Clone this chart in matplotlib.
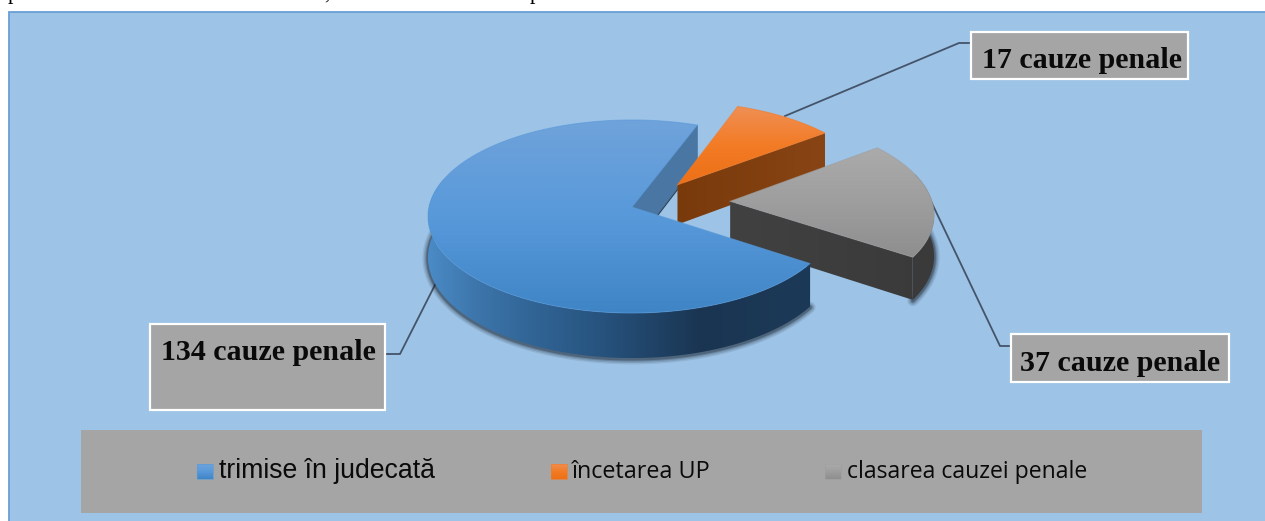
import numpy as np
import matplotlib
matplotlib.use('Agg')
import matplotlib.pyplot as plt
from matplotlib.colors import LinearSegmentedColormap, to_rgb
from matplotlib.patches import Polygon, Rectangle

# --- Datos ---------------------------------------------------------------
CATEGORIAS = ["trimise în judecată", "încetarea UP", "clasarea cauzei penale"]
CAUZE = [134, 17, 37]

# --- Estilo de cada porción ----------------------------------------------
EXPLOSION = [0.0, 0.33, 0.49]
DIR_EXPLOSION = [0, 44, 83]
GRAD_TOP = [["#70a3da", "#5899da", "#3f85c6"],
            ["#ef8f55", "#f37b25", "#ec7016"],
            ["#ababab", "#9e9e9e", "#8e8e8e"]]
GRAD_PARED = [([429, 470, 520, 600, 700, 814],
               ["#4a8ac6", "#3f78ae", "#33689a", "#27537e", "#1a3552", "#1c3a58"]),
              ([678, 825], ["#793a0b", "#884414"]),
              ([732, 934], ["#414141", "#3a3a3a"])]
PARED_INTERIOR = "#4a76a3"

INICIO = 124.0
CX, CY, A, B, K, H = 632, 207, 203, 95.6, 0.0984, 40.6

fig = plt.figure(figsize=(12.65, 5.21), dpi=100, facecolor='white')
ax = fig.add_axes([0, 0, 1, 1])
ax.set_xlim(0, 1265)
ax.set_ylim(521, 0)
ax.axis('off')

FONDO = "#9dc3e6"
GRIS = "#a5a5a5"
LINEA = "#44546a"

ax.add_patch(Rectangle((8.5, 11.5), 1270, 520, fc=FONDO, ec="#6a9fd6", lw=1.3, zorder=0))


def proyectar(u, v, abajo=False):
    w = 1 + K * v
    x = CX + A * u / w
    y = CY - B * v / w
    if abajo:
        y = y + H / w
    return x, y


def gradiente(poly, colores, z):
    # gradiente vertical recortado al polígono
    cmap = LinearSegmentedColormap.from_list("g", colores)
    x0, y0 = poly.min(axis=0)
    x1, y1 = poly.max(axis=0)
    im = ax.imshow(np.linspace(0, 1, 256).reshape(-1, 1), cmap=cmap, aspect='auto',
                   extent=(x0, x1, y1, y0), zorder=z, interpolation='bilinear')
    im.set_clip_path(Polygon(poly, transform=ax.transData))
    ax.plot(*np.vstack([poly, poly[:1]]).T, color=colores[1], lw=0.7, alpha=0.6, zorder=z)


def gradiente_h(poly, xs, colores, z):
    # gradiente horizontal (paredes)
    x0, y0 = poly.min(axis=0)
    x1, y1 = poly.max(axis=0)
    rgb = np.array([to_rgb(c) for c in colores])
    px = np.linspace(x0, x1, 512)
    fila = np.column_stack([np.interp(px, xs, rgb[:, i]) for i in range(3)])
    im = ax.imshow(fila.reshape(1, -1, 3), aspect='auto', extent=(x0, x1, y1, y0),
                   zorder=z, interpolation='bilinear')
    im.set_clip_path(Polygon(poly, transform=ax.transData))


def porcion(i, ini, fin, z):
    e = EXPLOSION[i]
    d = np.radians(DIR_EXPLOSION[i])
    ou, ov = e * np.sin(d), e * np.cos(d)
    t = np.radians(np.linspace(ini, fin, 240))
    u = ou + np.sin(t)
    v = ov + np.cos(t)
    xa, ya = proyectar(u, v)
    xb, yb = proyectar(u, v, abajo=True)
    x0, y0 = proyectar(ou, ov)
    x0b, y0b = proyectar(ou, ov, abajo=True)
    xs, cols = GRAD_PARED[i]

    # la pared exterior solo se ve por delante
    frente = v < ov + 0.3
    if frente.any():
        for lw, al in [(8, 0.10), (6, 0.14), (4, 0.20), (2.5, 0.30)]:
            ax.plot(xb[frente], yb[frente] + 0.8, color="#15202c", lw=lw, alpha=al,
                    solid_capstyle='round', zorder=z)
        pared = np.column_stack([np.r_[xa[frente], xb[frente][::-1]],
                                 np.r_[ya[frente], yb[frente][::-1]]])
        gradiente_h(pared, xs, cols, z + 0.1)

    # pared interior del final de cada porción, la otra queda oculta
    interior = np.array([(x0, y0), (xa[-1], ya[-1]), (xb[-1], yb[-1]), (x0b, y0b)])
    if i == 0:
        # la del azul va detrás de la porción naranja
        ax.plot([x0b, xb[-1]], [y0b, yb[-1]], color="#2c3e50", lw=2, zorder=1.5)
        ax.add_patch(Polygon(interior, fc=PARED_INTERIOR, ec=PARED_INTERIOR, lw=0.5, zorder=1.6))
    else:
        gradiente_h(interior, xs, cols, z + 0.2)

    # cara superior
    poly = np.column_stack([np.r_[x0, xa], np.r_[y0, ya]])
    gradiente(poly, GRAD_TOP[i], z + 0.3)


# --- Líneas guía (debajo de las porciones) -------------------------------
GUIAS = [[(437, 281), (400, 354), (385, 354)],
         [(785, 116), (959, 43), (971, 43)],
         [(928, 195), (1000, 346), (1011, 346)]]
for g in GUIAS:
    ax.plot(*zip(*g), color=LINEA, lw=1.3, zorder=1)

# --- Pastel: ángulos a partir de los valores -----------------------------
total = sum(CAUZE)
ang = INICIO
limites = []
for val in CAUZE:
    limites.append((ang, ang + val / total * 360))
    ang += val / total * 360

ORDEN = [1, 2, 0]
for z, i in enumerate(ORDEN):
    porcion(i, limites[i][0], limites[i][1], 2 + z)

# --- Etiquetas -----------------------------------------------------------
CAJAS = [(150, 324, 235, 86, 161, 360), (971, 32, 217, 47, 982, 68), (1011, 334, 218, 48, 1020, 371)]
SERIF = ['Liberation Serif', 'DejaVu Serif']
for val, (x, y, w, h, tx, ty) in zip(CAUZE, CAJAS):
    ax.add_patch(Rectangle((x, y), w, h, fc=GRIS, ec='white', lw=1.6, zorder=8))
    ax.text(tx, ty, f"{val} cauze penale", family=SERIF, fontweight='bold', fontsize=21.6,
            color='#0a0a0a', ha='left', va='baseline', zorder=9)

# --- Leyenda --------------------------------------------------------------
ax.add_patch(Rectangle((81, 430), 1121, 83, fc=GRIS, ec='none', zorder=8))
LEY_X = [197, 551, 825]
LEY_TX = [219, 572, 847]
LEY_FONT = [('Liberation Sans', 19.2), ('Open Sans', 16.8), ('Open Sans', 16.6)]
for i, nombre in enumerate(CATEGORIAS):
    xm = LEY_X[i]
    gradiente(np.array([(xm, 464), (xm + 16, 464), (xm + 16, 479), (xm, 479)], float),
              GRAD_TOP[i], 9)
    fam, tam = LEY_FONT[i]
    ax.text(LEY_TX[i], 478, nombre, family=fam, fontsize=tam, color='#0a0a0a',
            ha='left', va='baseline', zorder=10)

ax.set_xlim(0, 1265)
ax.set_ylim(521, 0)

# --- Restos del texto de la página ---------------------------------------
for x, s in [(8, "p"), (324, ","), (530, "p")]:
    ax.text(x, -1.5, s, family='Liberation Serif', fontsize=16, color='black',
            ha='left', va='baseline', clip_on=False)

fig.savefig('out.png', dpi=100, facecolor='white')
